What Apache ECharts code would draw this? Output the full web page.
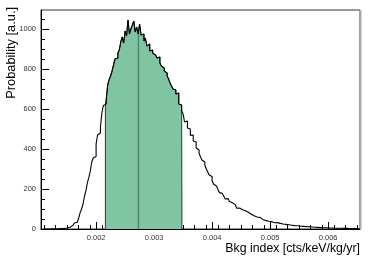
<!DOCTYPE html>
<html><head><meta charset="utf-8">
<script src="https://cdn.jsdelivr.net/npm/echarts@6/dist/echarts.min.js"></script>
<style>html,body{margin:0;padding:0;background:#fff}#c{width:374px;height:262px}</style>
</head><body><div id="c"></div>
<script>
// Histogram definition (lower edge of first bin, bin width)
const binStart = 0.0011;
const binWidth = 0.000025;
// Bin contents
const counts = [
  0,0, 0,0, 0,1, 1,0, 1,1, 2,2, 2,3, 3,5, 6,9, 13,18,
  24,30, 34,40, 55,82, 100,125, 165,192, 232,258, 290,335, 355,362, 425,470, 480,512,
  580,618, 625,650, 720,748, 765,790, 820,850, 855,880, 895,935, 960,930, 990,965, 1045,975,
  1000,1020, 1040,985, 1010,975, 1025,970, 975,940, 955,915, 925,890, 895,880, 870,880, 855,860,
  830,815, 805,790, 780,765, 750,730, 715,700, 695,675, 680,625, 620,590, 575,535, 540,505,
  500,468, 470,440, 435,405, 395,380, 360,345, 335,320, 300,285, 270,262, 240,225, 215,205,
  198,182, 178,170, 165,150, 152,146, 138,131, 128,122, 115,104, 105,101, 96,92, 91,86,
  84,75, 74,71, 66,62, 60,58, 58,50, 48,45, 43,40, 39,36, 37,31, 31,30,
  32,26, 28,26, 25,23, 23,21, 21,19, 19,18, 17,16, 16,14, 14,13, 13,12,
  12,11, 11,10, 10,9, 9,8, 8,7, 7,7, 6,6, 6,5, 5,5, 5,4,
  4,4, 4,3, 4,3, 3,3, 3,2, 2,3, 2,2, 2,2, 1,2
];
// Shaded interval and median
const bandLow = 0.00216;
const bandHigh = 0.00348;
const median = 0.00273;
// Axis ticks / labels
const xMajorTicks = [0.002, 0.003, 0.004, 0.005, 0.006];
const yMajorTicks = [0, 200, 400, 600, 800, 1000];
const xMin = 0.00105, xMax = 0.00655, yMin = 0, yMax = 1095;
const xTitle = 'Bkg index [cts/keV/kg/yr]';
const yTitle = 'Probability [a.u.]';

const xMinorTicks = [];
for (let k = 11; k <= 65; k += 2) { const v = k / 10000; if (v > xMin && v < xMax) xMinorTicks.push(+v.toFixed(5)); }
const yMinorTicks = [];
for (let v = 50; v < yMax; v += 50) yMinorTicks.push(v);

const n = counts.length;
const edge = i => +(binStart + i * binWidth).toFixed(7);
const histData = counts.map((c, i) => [edge(i), c]);
histData.push([edge(n), counts[n - 1]]);
const countAt = x => counts[Math.floor((x - binStart) / binWidth + 1e-9)];

const fillData = [[bandLow, 0], [bandLow, countAt(bandLow)]];
for (let i = 0; i < n; i++) { const e = edge(i); if (e > bandLow && e < bandHigh) fillData.push([e, counts[i]]); }
fillData.push([bandHigh, countAt(bandHigh - 1e-9)]);
fillData.push([bandHigh, 0]);
const medianData = [[median, 0], [median, countAt(median)]];

const font = '"Liberation Sans", Arial, Helvetica, sans-serif';
const chart = echarts.init(document.getElementById('c'), null, { renderer: 'canvas' });
chart.setOption({
  animation: false,
  backgroundColor: '#fff',
  grid: { left: 41, right: 14, top: 10, bottom: 33, show: true, borderColor: '#333', borderWidth: 1, backgroundColor: 'transparent' },
  xAxis: [
    { type: 'value', min: xMin, max: xMax, position: 'bottom',
      axisLine: { show: true, onZero: false, lineStyle: { color: '#000', width: 1 } },
      axisTick: { show: true, inside: true, length: 7, customValues: xMajorTicks, lineStyle: { color: '#000' } },
      axisLabel: { show: true, customValues: xMajorTicks, formatter: v => v.toFixed(3), fontFamily: font, fontSize: 7.5, color: '#333', margin: 5 },
      splitLine: { show: false } },
    { type: 'value', min: xMin, max: xMax, position: 'bottom',
      axisLine: { show: false },
      axisTick: { show: true, inside: true, length: 4, customValues: xMinorTicks, lineStyle: { color: '#000' } },
      axisLabel: { show: false }, splitLine: { show: false } }
  ],
  yAxis: [
    { type: 'value', min: yMin, max: yMax, position: 'left',
      axisLine: { show: true, onZero: false, lineStyle: { color: '#000', width: 1 } },
      axisTick: { show: true, inside: true, length: 8, customValues: yMajorTicks, lineStyle: { color: '#000' } },
      axisLabel: { show: true, customValues: yMajorTicks, formatter: v => String(v), fontFamily: font, fontSize: 7.5, color: '#333', margin: 5 },
      splitLine: { show: false } },
    { type: 'value', min: yMin, max: yMax, position: 'left',
      axisLine: { show: false },
      axisTick: { show: true, inside: true, length: 4, customValues: yMinorTicks, lineStyle: { color: '#000' } },
      axisLabel: { show: false }, splitLine: { show: false } }
  ],
  series: [
    { type: 'line', data: fillData, step: 'end', symbol: 'none', xAxisIndex: 0, yAxisIndex: 0, z: 2,
      lineStyle: { color: '#2a3a33', width: 1 }, areaStyle: { color: '#81c4a4', opacity: 1 } },
    { type: 'line', data: medianData, symbol: 'none', xAxisIndex: 0, yAxisIndex: 0, z: 3,
      lineStyle: { color: '#4f7f68', width: 1.3 } },
    { type: 'line', data: histData, step: 'end', symbol: 'none', xAxisIndex: 0, yAxisIndex: 0, z: 4,
      lineStyle: { color: '#000', width: 1.1 } }
  ],
  graphic: [
    { type: 'line', shape: { x1: 360.5, y1: 10, x2: 360.5, y2: 229 }, style: { stroke: '#aaa', lineWidth: 2 }, z: 10 },
    { type: 'text', right: 14, top: 243, style: { text: xTitle, font: '12.3px ' + font, fill: '#000' } },
    { type: 'text', rotation: Math.PI / 2, left: 5, top: 7, style: { text: yTitle, font: '12.8px ' + font, fill: '#000' } }
  ]
});
</script></body></html>
